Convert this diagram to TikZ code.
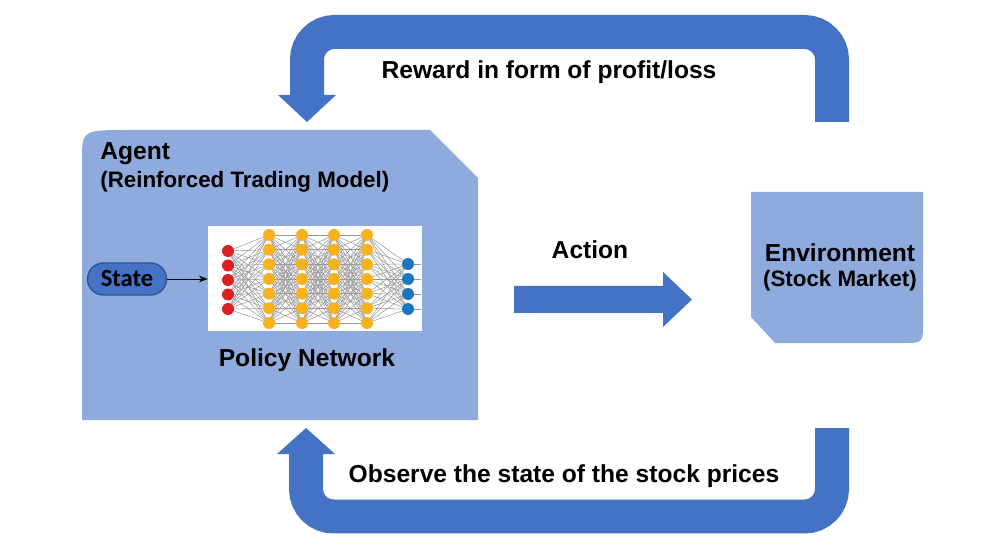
\documentclass[tikz,border=0pt]{standalone}
\usepackage{fontspec}
\setmainfont{Liberation Sans}
\newfontfamily\calibri{Carlito}
\usetikzlibrary{arrows.meta}

\definecolor{boxblue}{HTML}{8FAADC}
\definecolor{arrowblue}{HTML}{4472C4}
\definecolor{edgeblue}{HTML}{2F528F}
\definecolor{nnred}{HTML}{DE1F1F}
\definecolor{nnyellow}{HTML}{F8B21C}
\definecolor{nnblue}{HTML}{1C76BE}

\tikzset{
    title/.style={font=\bfseries\fontsize{14}{17}\selectfont, inner sep=0pt},
    subtitle/.style={font=\bfseries\fontsize{12.7}{15}\selectfont, inner sep=0pt},
    uturn/.style={draw=arrowblue, line width=0.68cm, rounded corners=0.55cm},
    synapse/.style={draw=gray!80, line width=0.3pt},
}

\begin{document}
\begin{tikzpicture}[x=0.02cm, y=-0.02cm]
    \useasboundingbox (0,0) rectangle (1000,550);

    % agent and environment
    \fill[boxblue] (82,420) -- (82,160) .. controls (82,130) .. (130,130) -- (430,130)
        -- (478,178) -- (478,420) -- cycle;
    \fill[boxblue] (751,192) -- (923,192) -- (923,323) .. controls (923,343) .. (903,343)
        -- (775,343) -- (751,317) -- cycle;

    \node[title, anchor=base west] (agent) at (100,160) {Agent};
    \node[subtitle, anchor=base west] (model) at (100,188) {(Reinforced Trading Model)};
    \node[title] (env) at (840,253) {Environment};
    \node[subtitle] (market) at (840,281) {(Stock Market)};

    % policy network
    \node[fill=white, minimum width=4.28cm, minimum height=2.1cm, inner sep=0pt] (net) at (315,278.5) {};
    \foreach \l/\lx/\n/\sp/\cy in {1/228/5/14.5/280, 2/269/7/14.67/279, 3/302/7/14.67/279,
                                  4/334/7/14.67/279, 5/367/7/14.67/279, 6/408/4/15/286.5}
        \foreach \i in {1,...,\n}
            \coordinate (n\l-\i) at (\lx, {\cy+(\i-(\n+1)/2)*\sp});
    \foreach \l/\m/\a/\b in {1/2/5/7, 2/3/7/7, 3/4/7/7, 4/5/7/7, 5/6/7/4}
        \foreach \i in {1,...,\a}
            \foreach \j in {1,...,\b}
                \draw[synapse] (n\l-\i) -- (n\m-\j);
    \foreach \i in {1,...,4}
        \draw[synapse] (n6-\i) -- ++(13,0);
    \foreach \i in {1,...,5}
        \fill[nnred] (n1-\i) circle[radius=6];
    \foreach \l in {2,...,5}
        \foreach \i in {1,...,7}
            \fill[nnyellow] (n\l-\i) circle[radius=6];
    \foreach \i in {1,...,4}
        \fill[nnblue] (n6-\i) circle[radius=6];

    \node[title] (policy) at (307,360) {Policy Network};

    \node[draw=edgeblue, fill=arrowblue, line width=0.8pt, rounded corners=0.32cm,
          minimum width=1.58cm, minimum height=0.64cm, inner sep=0pt,
          font=\calibri\bfseries\fontsize{14}{16}\selectfont] (state) at (127,279) {State};
    \draw[-{Stealth[length=5pt]}] (state.east) -- (state.east -| net.west);

    % action
    \fill[arrowblue] (514,286) -- (663,286) -- (663,272) -- (692,299.5) -- (663,327)
        -- (663,313) -- (514,313) -- cycle;
    \node[title] (action) at (590,250) {Action};

    % reward loop
    \coordinate (rew-start) at (832,122);
    \coordinate (rew-end) at (307,95);
    \draw[uturn] (rew-start) -- (832,32) -- (307,32) -- (rew-end);
    \fill[arrowblue] (278,95) -- (336,95) -- (307,122) -- cycle;
    \node[title] (reward) at (549,72) {Reward in form of profit/loss};

    % observation loop
    \coordinate (obs-start) at (832,428);
    \coordinate (obs-end) at (306,454);
    \draw[uturn] (obs-start) -- (832,516.5) -- (306,516.5) -- (obs-end);
    \fill[arrowblue] (277,454) -- (335,454) -- (306,428) -- cycle;
    \node[title] (observe) at (564,476) {Observe the state of the stock prices};

\end{tikzpicture}
\end{document}
